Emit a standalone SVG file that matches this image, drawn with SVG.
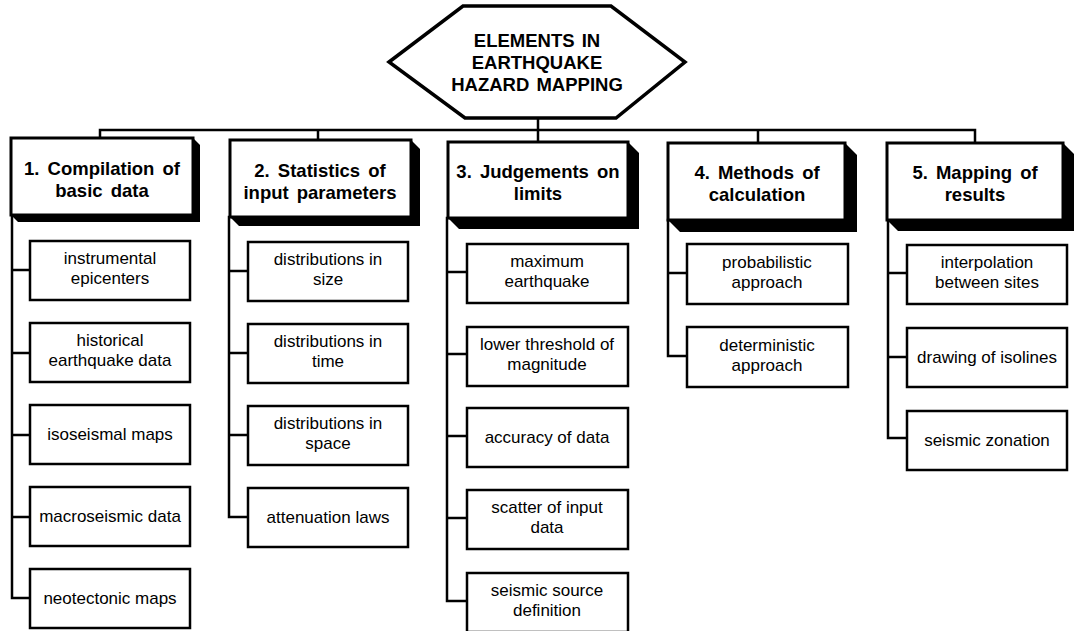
<svg xmlns="http://www.w3.org/2000/svg" width="1074" height="631" viewBox="0 0 1074 631">
<style>
.bg{fill:#fff}
.ln{fill:none;stroke:#000;stroke-width:2.5;stroke-linecap:square}
.hex{fill:#fff;stroke:#000;stroke-width:3.5;stroke-linejoin:miter}
.hbox{fill:#fff;stroke:#000;stroke-width:3}
.sh{fill:#000}
.cbox{fill:#fff;stroke:#000;stroke-width:2.5}
.ht{font-family:"Liberation Sans",Arial,sans-serif;font-weight:bold;font-size:18.5px;text-anchor:middle;fill:#000;word-spacing:3px}
.hx{font-family:"Liberation Sans",Arial,sans-serif;font-weight:bold;font-size:18.5px;text-anchor:middle;fill:#000;word-spacing:2px}
.ct{font-family:"Liberation Sans",Arial,sans-serif;font-size:17px;text-anchor:middle;fill:#000}
</style>
<rect class="bg" x="0" y="0" width="1074" height="631"/>
<g id="connectors">
<path class="ln" d="M538 118 V130 M100 130 H975 M100 130 V138 M318 130 V140 M538 130 V142 M758 130 V143 M975 130 V143"/>
<path class="ln" d="M12 215 V598 M12 270 H30 M12 353 H30 M12 435 H30 M12 517 H30 M12 598 H30"/>
<path class="ln" d="M229 217 V517 M229 271 H248 M229 353 H248 M229 435 H248 M229 517 H248"/>
<path class="ln" d="M447 218 V601 M447 272 H467 M447 354 H467 M447 436 H467 M447 518 H467 M447 601 H467"/>
<path class="ln" d="M668 220 V356 M668 273 H687 M668 356 H687"/>
<path class="ln" d="M888 220 V438 M888 273 H907 M888 357 H907 M888 438 H907"/>
</g>
<g id="root">
<polygon class="hex" points="389,62 463,6 611,6 685,62 616,118 465,118"/>
<text class="hx" x="537" y="47">ELEMENTS IN</text>
<text class="hx" x="537" y="69">EARTHQUAKE</text>
<text class="hx" x="537" y="91">HAZARD MAPPING</text>
</g>
<g id="h1">
<polygon class="sh" points="193,138 200,145 200,222 18,222 11,215"/>
<rect class="hbox" x="11" y="138" width="182" height="77"/>
<text class="ht" x="102" y="175">1. Compilation of</text>
<text class="ht" x="102" y="197">basic data</text>
</g>
<g id="h2">
<polygon class="sh" points="411,140 420,149 420,226 239,226 230,217"/>
<rect class="hbox" x="230" y="140" width="181" height="77"/>
<text class="ht" x="320" y="177">2. Statistics of</text>
<text class="ht" x="320" y="199">input parameters</text>
</g>
<g id="h3">
<polygon class="sh" points="628,142 639,153 639,229 459,229 448,218"/>
<rect class="hbox" x="448" y="142" width="180" height="76"/>
<text class="ht" x="538" y="178">3. Judgements on</text>
<text class="ht" x="538" y="200">limits</text>
</g>
<g id="h4">
<polygon class="sh" points="845,143 857,155 857,232 680,232 668,220"/>
<rect class="hbox" x="668" y="143" width="177" height="77"/>
<text class="ht" x="757" y="179">4. Methods of</text>
<text class="ht" x="757" y="201">calculation</text>
</g>
<g id="h5">
<polygon class="sh" points="1063,143 1074,154 1074,231 898,231 887,220"/>
<rect class="hbox" x="887" y="143" width="176" height="77"/>
<text class="ht" x="975" y="179">5. Mapping of</text>
<text class="ht" x="975" y="201">results</text>
</g>
<g id="c1a"><rect class="cbox" x="30" y="241" width="160" height="59"/><text class="ct" x="110" y="264">instrumental</text><text class="ct" x="110" y="284">epicenters</text></g>
<g id="c1b"><rect class="cbox" x="30" y="323" width="160" height="59"/><text class="ct" x="110" y="346">historical</text><text class="ct" x="110" y="366">earthquake data</text></g>
<g id="c1c"><rect class="cbox" x="30" y="405" width="160" height="59"/><text class="ct" x="110" y="440">isoseismal maps</text></g>
<g id="c1d"><rect class="cbox" x="30" y="487" width="160" height="59"/><text class="ct" x="110" y="522">macroseismic data</text></g>
<g id="c1e"><rect class="cbox" x="30" y="569" width="160" height="59"/><text class="ct" x="110" y="604">neotectonic maps</text></g>
<g id="c2a"><rect class="cbox" x="248" y="242" width="160" height="59"/><text class="ct" x="328" y="265">distributions in</text><text class="ct" x="328" y="285">size</text></g>
<g id="c2b"><rect class="cbox" x="248" y="324" width="160" height="59"/><text class="ct" x="328" y="347">distributions in</text><text class="ct" x="328" y="367">time</text></g>
<g id="c2c"><rect class="cbox" x="248" y="406" width="160" height="59"/><text class="ct" x="328" y="429">distributions in</text><text class="ct" x="328" y="449">space</text></g>
<g id="c2d"><rect class="cbox" x="248" y="488" width="160" height="59"/><text class="ct" x="328" y="523">attenuation laws</text></g>
<g id="c3a"><rect class="cbox" x="467" y="244" width="161" height="59"/><text class="ct" x="547" y="267">maximum</text><text class="ct" x="547" y="287">earthquake</text></g>
<g id="c3b"><rect class="cbox" x="467" y="327" width="161" height="59"/><text class="ct" x="547" y="350">lower threshold of</text><text class="ct" x="547" y="370">magnitude</text></g>
<g id="c3c"><rect class="cbox" x="467" y="408" width="161" height="59"/><text class="ct" x="547" y="443">accuracy of data</text></g>
<g id="c3d"><rect class="cbox" x="467" y="490" width="161" height="59"/><text class="ct" x="547" y="513">scatter of input</text><text class="ct" x="547" y="533">data</text></g>
<g id="c3e"><rect class="cbox" x="467" y="573" width="161" height="59"/><text class="ct" x="547" y="596">seismic source</text><text class="ct" x="547" y="616">definition</text></g>
<g id="c4a"><rect class="cbox" x="687" y="244" width="161" height="60"/><text class="ct" x="767" y="268">probabilistic</text><text class="ct" x="767" y="288">approach</text></g>
<g id="c4b"><rect class="cbox" x="687" y="327" width="161" height="60"/><text class="ct" x="767" y="351">deterministic</text><text class="ct" x="767" y="371">approach</text></g>
<g id="c5a"><rect class="cbox" x="907" y="245" width="160" height="59"/><text class="ct" x="987" y="268">interpolation</text><text class="ct" x="987" y="288">between sites</text></g>
<g id="c5b"><rect class="cbox" x="907" y="328" width="160" height="59"/><text class="ct" x="987" y="363">drawing of isolines</text></g>
<g id="c5c"><rect class="cbox" x="907" y="411" width="160" height="59"/><text class="ct" x="987" y="446">seismic zonation</text></g>
</svg>
